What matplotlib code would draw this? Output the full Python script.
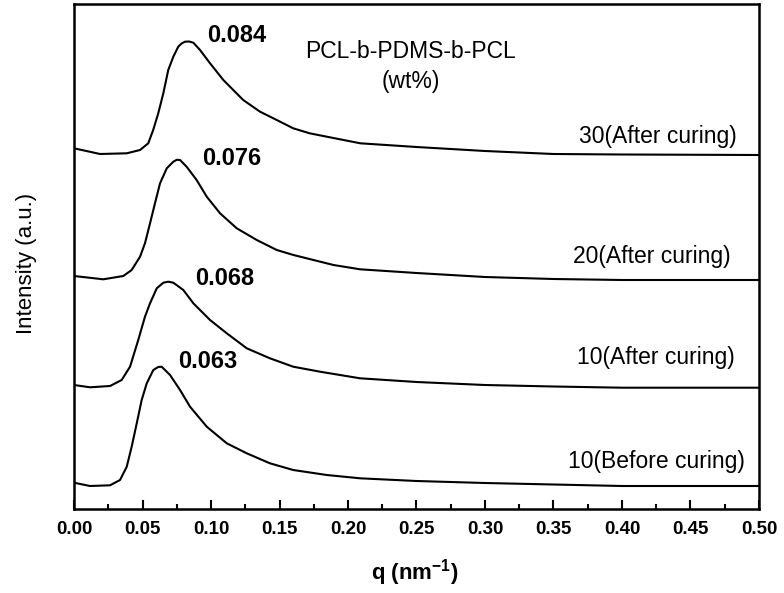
import matplotlib
matplotlib.use("Agg")
import matplotlib.pyplot as plt
import numpy as np

plt.rcParams['font.family'] = ['Liberation Sans', 'DejaVu Sans']
plt.rcParams['mathtext.fontset'] = 'custom'
plt.rcParams['mathtext.bf'] = 'Liberation Sans:bold'
plt.rcParams['mathtext.rm'] = 'Liberation Sans:bold'
plt.rcParams['mathtext.default'] = 'bf'

# ---- data (q in nm^-1, intensity in arbitrary offset units) ----
q_30 = [0.0, 0.019, 0.0385, 0.0482, 0.0542, 0.0578, 0.0615, 0.0652, 0.0688, 0.0725,
        0.0761, 0.0785, 0.081, 0.084, 0.0871, 0.092, 0.0993, 0.109, 0.1235, 0.1358, 0.148, 0.160,
        0.172, 0.1845, 0.209, 0.25, 0.30, 0.35, 0.40, 0.50]
i_30 = [360.7, 355.0, 355.7, 359.0, 365.7, 379.0, 395.7, 415.7, 439.0, 452.3,
        462.3, 465.5, 467.3, 467.5, 466.3, 459.0, 445.7, 429.0, 409.0, 397.3, 389.0, 380.7,
        375.7, 372.3, 365.7, 362.0, 358.0, 355.0, 354.5, 354.0]

q_20 = [0.0, 0.0214, 0.036, 0.0421, 0.0482, 0.0518, 0.0555, 0.0591, 0.0628, 0.0677,
        0.0725, 0.075, 0.0774, 0.0822, 0.0895, 0.0969, 0.1066, 0.1188, 0.1334, 0.148, 0.1602,
        0.1748, 0.1894, 0.2088, 0.25, 0.30, 0.35, 0.40, 0.50]
i_20 = [233.0, 229.7, 233.0, 239.0, 252.3, 265.7, 285.7, 305.7, 325.7, 340.7,
        347.3, 349.2, 349.0, 342.3, 329.0, 312.3, 295.7, 280.7, 269.0, 259.0, 254.0,
        249.0, 244.0, 239.7, 236.0, 232.0, 230.0, 229.0, 229.0]

q_10a = [0.0, 0.0117, 0.0263, 0.0348, 0.0409, 0.0469, 0.0518, 0.0555, 0.0604, 0.0652,
         0.0688, 0.0725, 0.0798, 0.0871, 0.0993, 0.1115, 0.1261, 0.143, 0.160, 0.1796,
         0.2088, 0.25, 0.30, 0.35, 0.40, 0.50]
i_10a = [124.0, 121.7, 123.0, 129.0, 142.3, 169.0, 192.3, 205.7, 220.7, 226.3,
         227.3, 226.3, 219.0, 205.7, 189.0, 175.7, 160.7, 150.7, 142.3, 137.3,
         130.7, 127.0, 124.0, 122.5, 121.3, 121.3]

q_10b = [0.0, 0.0117, 0.0263, 0.0336, 0.0385, 0.0421, 0.0458, 0.0494, 0.0531, 0.0579,
         0.0615, 0.064, 0.0701, 0.0774, 0.0847, 0.0969, 0.1115, 0.1261, 0.143, 0.160, 0.1845,
         0.2088, 0.25, 0.30, 0.35, 0.40, 0.50]
i_10b = [26.3, 23.0, 23.7, 29.0, 42.3, 62.3, 85.7, 109.0, 125.7, 139.0,
         142.0, 142.3, 134.0, 119.0, 102.3, 82.3, 65.7, 55.7, 45.7, 39.0, 34.0,
         30.7, 28.0, 26.0, 24.5, 23.0, 23.0]

peak_labels = ["0.084", "0.076", "0.068", "0.063"]
curve_labels = ["30(After curing)", "20(After curing)", "10(After curing)", "10(Before curing)"]
x_ticks = [0.00, 0.05, 0.10, 0.15, 0.20, 0.25, 0.30, 0.35, 0.40, 0.45, 0.50]

fig = plt.figure(figsize=(7.84, 5.93), dpi=100)
ax = fig.add_axes([74/784, 1-509/593, (759-74)/784, (509-4)/593])

for q, i in [(q_30, i_30), (q_20, i_20), (q_10a, i_10a), (q_10b, i_10b)]:
    ax.plot(q, i, color='black', lw=1.5, solid_joinstyle='round')

ax.set_xlim(0, 0.5)
ax.set_ylim(0, 505)
ax.set_xticks(x_ticks)
ax.set_xticklabels([f"{t:.2f}" for t in x_ticks], fontsize=13.5, fontweight='bold')
ax.set_xticks(np.arange(0.025, 0.5, 0.05), minor=True)
ax.tick_params(axis='x', which='major', direction='in', length=6.5, width=1.5, pad=8.5)
ax.tick_params(axis='x', which='minor', direction='in', length=3.5, width=1.5)
ax.set_yticks([])
for s in ax.spines.values():
    s.set_linewidth(1.8)

# peak labels
peak_pos = [(0.0971, 473), (0.0932, 350.7), (0.0883, 230.7), (0.0761, 147.3)]
for lab, (x, y) in zip(peak_labels, peak_pos):
    ax.text(x, y, lab, fontsize=17, fontweight='bold', ha='left', va='center')

# curve labels
lab_pos = [(0.4265, 372.3), (0.422, 252.3), (0.425, 151.7), (0.4253, 47.3)]
for lab, (x, y) in zip(curve_labels, lab_pos):
    ax.text(x, y, lab, fontsize=16.5, ha='center', va='center')

ax.text(0.2455, 457.3, "PCL-b-PDMS-b-PCL", fontsize=16.5, ha='center', va='center')
ax.text(0.2455, 427.3, "(wt%)", fontsize=16.5, ha='center', va='center')

fig.text(27/784, 1-263/593, "Intensity (a.u.)", fontsize=16, rotation=90,
         ha='center', va='center')
fig.text(415/784, 1-573/593, r"q (nm$^{-1}$)", fontsize=16, fontweight='bold',
         ha='center', va='center')

fig.savefig("out.png", dpi=100)
